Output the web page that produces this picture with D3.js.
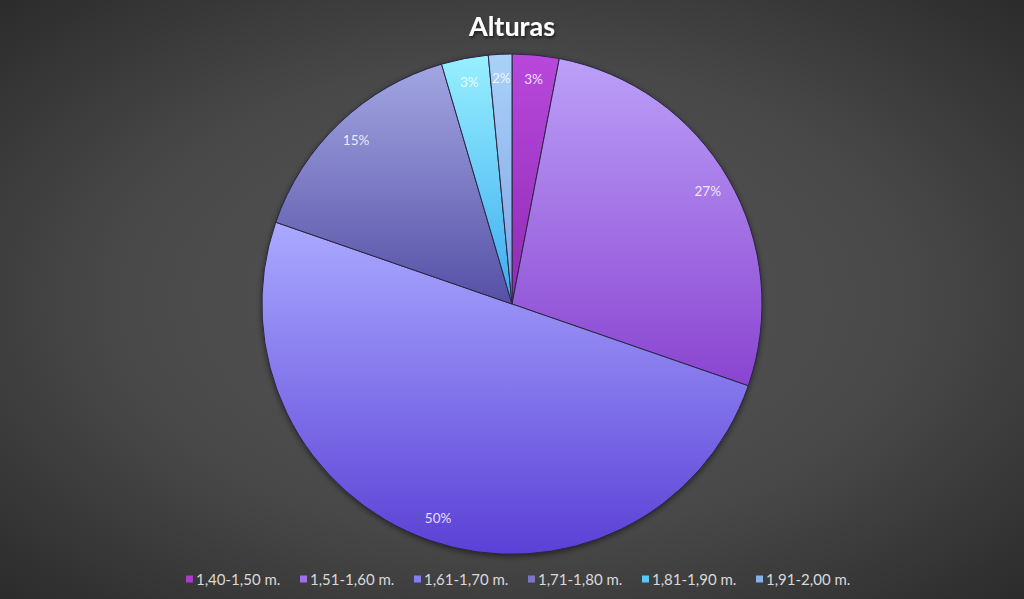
<!DOCTYPE html>
<html>
<head>
<meta charset="utf-8">
<script src="https://cdn.jsdelivr.net/npm/d3@7"></script>
<style>
  html, body { margin: 0; padding: 0; background: #333; }
  svg { display: block; }
</style>
</head>
<body>
<svg id="chart" width="1024" height="599"></svg>
<script>
// data
const CATEGORIES = ['1,40-1,50 m.', '1,51-1,60 m.', '1,61-1,70 m.', '1,71-1,80 m.', '1,81-1,90 m.', '1,91-2,00 m.']
const VALUES = [2, 18, 33, 10, 2, 1]
// top / bottom colour of each slice gradient
const TOP_COLORS = ['#b848dc', '#bba0f8', '#aaaaff', '#a2a6e2', '#98f0ff', '#aad2f8']
const BOTTOM_COLORS = ['#8e2cb4', '#8a44d0', '#5b40d6', '#5650a6', '#3aaaf0', '#7ea2e6']
const MID_COLORS = ['#a83ccc', '#a070e8', '#8080f0', '#7a78c4', '#58c8f4', '#88b0ec']

const width = 1024, height = 599
const cx = 512, cy = 304, radius = 250

let svg = d3.select('#chart')
let defs = svg.append('defs')

// background
let bg = defs.append('radialGradient').attr('id', 'bg')
  .attr('cx', '50%').attr('cy', '50%').attr('r', '72%')
bg.append('stop').attr('offset', '0%').attr('stop-color', '#565656')
bg.append('stop').attr('offset', '55%').attr('stop-color', '#484848')
bg.append('stop').attr('offset', '100%').attr('stop-color', '#2a2a2a')
svg.append('rect').attr('width', width).attr('height', height).attr('fill', 'url(#bg)')

// slice gradients
CATEGORIES.forEach((c, i) => {
  let g = defs.append('linearGradient').attr('id', 'slice' + i)
    .attr('x1', 0).attr('y1', 0).attr('x2', 0).attr('y2', 1)
  g.append('stop').attr('offset', '0%').attr('stop-color', TOP_COLORS[i])
  g.append('stop').attr('offset', '100%').attr('stop-color', BOTTOM_COLORS[i])
})

let shadow = defs.append('filter').attr('id', 'shadow')
  .attr('x', '-10%').attr('y', '-10%').attr('width', '120%').attr('height', '120%')
shadow.append('feDropShadow').attr('dx', 0).attr('dy', 2).attr('stdDeviation', 3)
  .attr('flood-color', '#000').attr('flood-opacity', 0.55)

let titleShadow = defs.append('filter').attr('id', 'tshadow')
titleShadow.append('feDropShadow').attr('dx', 1).attr('dy', 2).attr('stdDeviation', 1.5)
  .attr('flood-color', '#000').attr('flood-opacity', 0.6)

// title
svg.append('text')
  .attr('x', cx).attr('y', 36)
  .attr('text-anchor', 'middle')
  .attr('font-family', 'Lato, "DejaVu Sans", sans-serif')
  .attr('font-weight', 700)
  .attr('font-size', '27px')
  .attr('fill', '#ffffff')
  .attr('filter', 'url(#tshadow)')
  .text('Alturas')

// pie
let pie = d3.pie().sort(null).value(d => d)
let arcs = pie(VALUES)
let total = d3.sum(VALUES)
let arc = d3.arc().innerRadius(0).outerRadius(radius)
let labelArc = d3.arc().innerRadius(226).outerRadius(226)

let pieG = svg.append('g').attr('transform', `translate(${cx}, ${cy})`)

pieG.append('circle').attr('r', radius).attr('fill', '#2a2540').attr('filter', 'url(#shadow)')

pieG.selectAll('path.slice')
  .data(arcs)
  .enter()
  .append('path')
  .attr('class', 'slice')
  .attr('d', arc)
  .attr('fill', (d, i) => `url(#slice${i})`)
  .attr('stroke', '#2b2642')
  .attr('stroke-width', 1)
  .attr('stroke-linejoin', 'round')

pieG.selectAll('text.pct')
  .data(arcs)
  .enter()
  .append('text')
  .attr('class', 'pct')
  .attr('transform', d => `translate(${labelArc.centroid(d)})`)
  .attr('text-anchor', 'middle')
  .attr('dominant-baseline', 'central')
  .attr('font-family', 'Lato, "DejaVu Sans", sans-serif')
  .attr('font-size', '13.5px')
  .attr('fill', '#ffffff')
  .attr('fill-opacity', 0.85)
  .text(d => Math.round(d.data / total * 100) + '%')

// legend
let legendX = d3.scaleBand().domain(CATEGORIES).range([186, 870])
let items = svg.selectAll('g.legend')
  .data(CATEGORIES)
  .enter()
  .append('g')
  .attr('class', 'legend')
  .attr('transform', d => `translate(${legendX(d)}, 579)`)

items.append('rect')
  .attr('x', 0).attr('y', -3.5)
  .attr('width', 7).attr('height', 7)
  .attr('fill', (d, i) => MID_COLORS[i])

items.append('text')
  .attr('x', 10).attr('y', 0)
  .attr('dominant-baseline', 'central')
  .attr('font-family', 'Lato, "DejaVu Sans", sans-serif')
  .attr('font-size', '15px')
  .attr('fill', '#d9d9d9')
  .text(d => d)
</script>
</body>
</html>
